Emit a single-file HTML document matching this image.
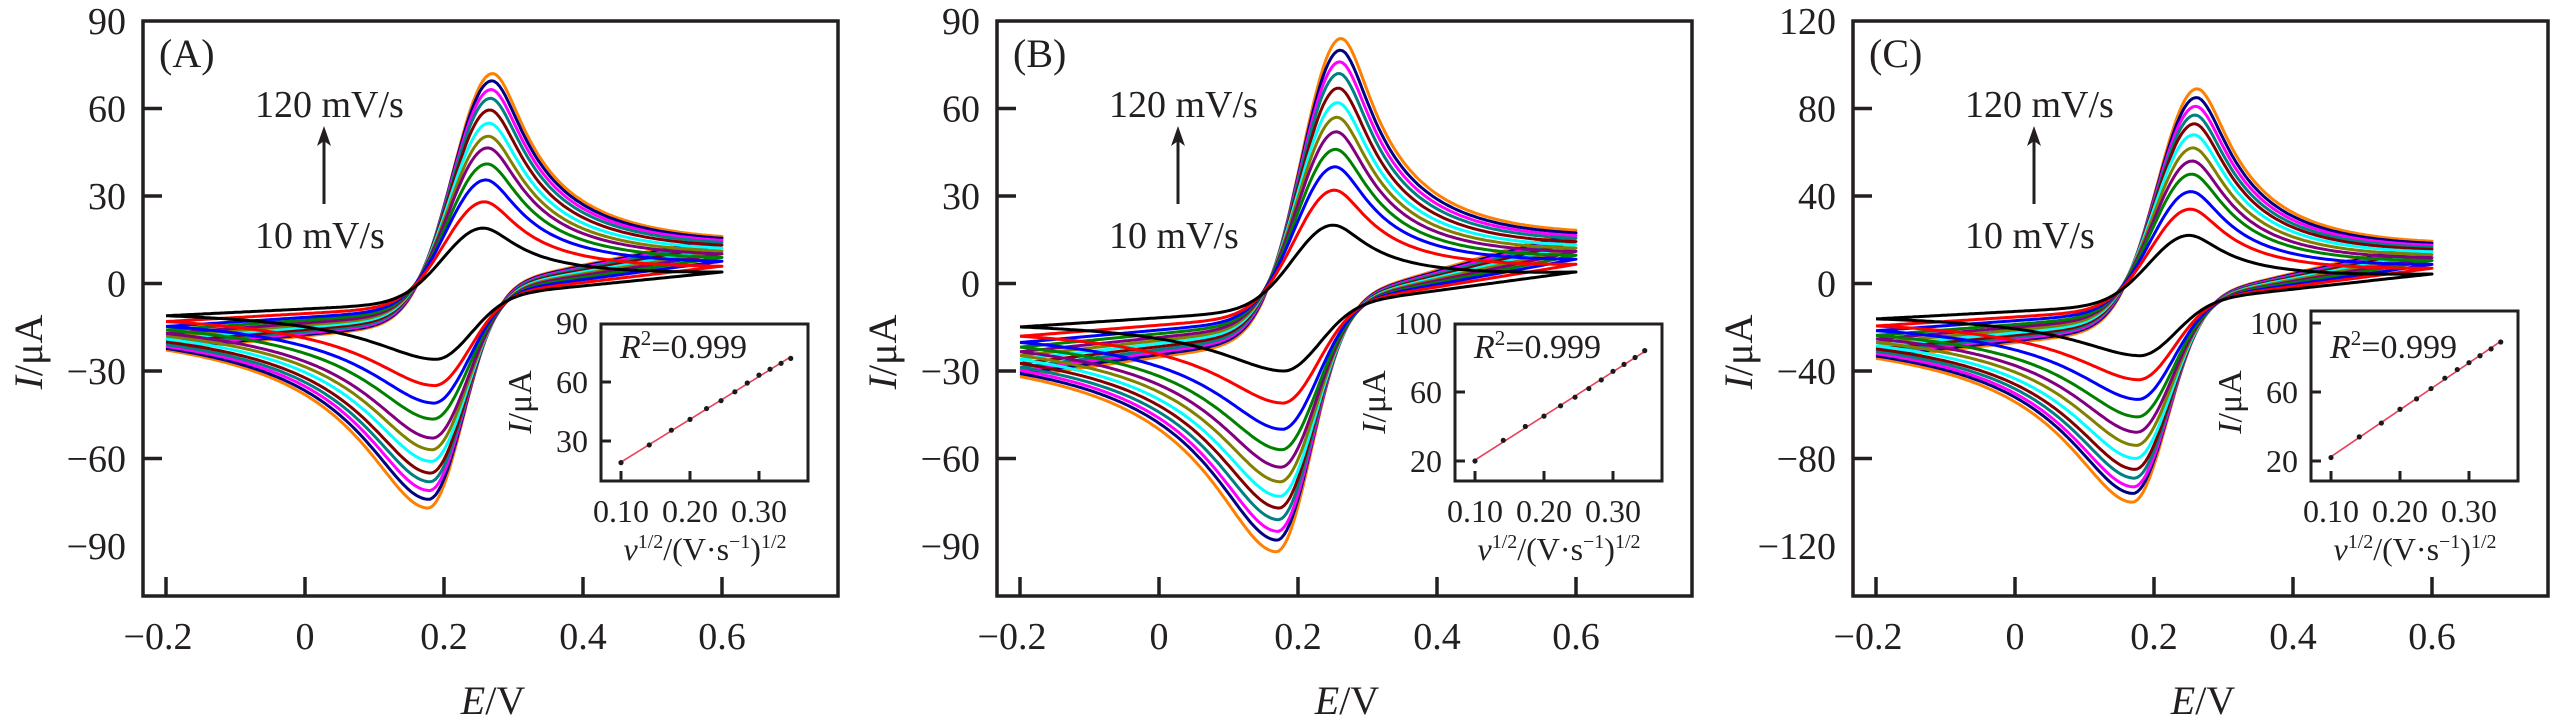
<!DOCTYPE html>
<html><head><meta charset="utf-8"><style>
html,body{margin:0;padding:0;background:#fff;}
svg{display:block;font-family:"Liberation Serif","DejaVu Serif",serif;}
</style></head><body>
<svg id="chart" width="2567" height="724" viewBox="0 0 2567 724" xmlns="http://www.w3.org/2000/svg"></svg>
<script>
// ---- data ----
const panelLetters = ["A","B","C"];
const scanRates = [10,20,30,40,50,60,70,80,90,100,110,120];
const sqrtRates = [0.100,0.141,0.173,0.200,0.224,0.245,0.265,0.283,0.300,0.316,0.332,0.346];
const anodicA = [19,28,35.5,41,46.5,50.5,55,59.5,63.5,66.5,69.5,72];
const cathodicA = [-26,-35,-41,-46.5,-53,-57,-61,-65,-68,-71,-74,-77];
const anodicB = [20,32,40,46,52,57,62,67,72,76,80,84];
const cathodicB = [-30,-41,-50,-57,-63,-68,-73,-77,-81,-85,-88,-92];
const anodicC = [22,34,42,50,56,62,68,73,77,81,85,89];
const cathodicC = [-33,-44,-53,-61,-68,-74,-80,-85,-89,-93,-96,-100];
const epaA = [0.255,0.257,0.259,0.261,0.262,0.263,0.264,0.265,0.266,0.267,0.268,0.269];
const epcA = [0.19,0.188,0.187,0.186,0.185,0.184,0.183,0.182,0.181,0.180,0.179,0.178];
const epaB = [0.249,0.251,0.252,0.253,0.254,0.255,0.256,0.257,0.258,0.259,0.260,0.261];
const epcB = [0.182,0.180,0.179,0.178,0.177,0.176,0.175,0.174,0.173,0.172,0.171,0.170];
const epaC = epaB.slice();
const epcC = epcB.slice();
const yMaxes = [90,90,120];
const yTicksMain = [[-90,-60,-30,0,30,60,90],[-90,-60,-30,0,30,60,90],[-120,-80,-40,0,40,80,120]];
const xTicksMain = [-0.2,0,0.2,0.4,0.6];
const xTickLabels = ["\u22120.2","0","0.2","0.4","0.6"];
const insetXTicks = [0.10,0.20,0.30];
const insetXTickLabels = ["0.10","0.20","0.30"];
const insetYTicks = [[30,60,90],[20,60,100],[20,60,100]];
const baseFactors = [1.0,1.4,1.5];
const colors = ["#000000","#ff0000","#0000ff","#008000","#800080","#808000","#00ffff","#800000","#008080","#ff00ff","#000080","#ff8000"];

const anodicAll=[anodicA,anodicB,anodicC], cathodicAll=[cathodicA,cathodicB,cathodicC];
const epaAll=[epaA,epaB,epaC], epcAll=[epcA,epcB,epcC];

const NS="http://www.w3.org/2000/svg";
const svg=document.getElementById('chart');
function mk(tag,attrs,parent,text){const e=document.createElementNS(NS,tag);for(const k in attrs)e.setAttribute(k,attrs[k]);if(text!==undefined)e.textContent=text;(parent||svg).appendChild(e);return e;}

const ox=[143,997,1853];
const FW=695, FT=21, FB=596;

function Pa(x){return x<0?Math.exp(-(x/0.08)*(x/0.08)):Math.pow(1+(x/0.0424)*(x/0.0424),-0.35);}
function Pc(x){return x<0?Math.exp(-(x/0.07)*(x/0.07)):Math.pow(1+(x/0.091)*(x/0.091),-0.5);}

for(let p=0;p<3;p++){
  const X=ox[p];
  const g=mk('g',{},svg);
  
  
  const xs=E=>X+23+(E+0.2)*FW;
  const ym=yMaxes[p];
  const ys=I=>FT+(ym-I)*(525/(2*ym));

  const cg=mk('g',{fill:'none','stroke-width':3,'stroke-linejoin':'round'},g);
  
  
  const an=anodicAll[p], ca=cathodicAll[p], ea=epaAll[p], ec=epcAll[p];
  const Imax=an[an.length-1];
  for(let i=scanRates.length-1;i>=0;i--){
    const kb=baseFactors[p]*(0.3+0.7*an[i]/Imax);
    const baseF=E=>kb*(-18+24*E);
    const Af=an[i]-baseF(ea[i]);
    const If=E=>baseF(E)+Af*Pa(E-ea[i]);
    const V=If(0.6);
    const b0=V+kb*49*(ec[i]-0.6);
    const baseR=E=>E>=ec[i]?V+kb*49*(E-0.6):b0+kb*10*(E-ec[i]);
    const Ac=ca[i]-baseR(ec[i]);
    const Ir0=E=>baseR(E)+Ac*Pc(ec[i]-E);
    const delta=If(-0.2)-Ir0(-0.2);
    const Ir=E=>Ir0(E)+(E<ec[i]?delta*(ec[i]-E)/(ec[i]+0.2):0);
    let d='';
    const N=200;
    for(let k=0;k<=N;k++){const E=-0.2+0.8*k/N;d+=(k?'L':'M')+xs(E).toFixed(1)+','+ys(If(E)).toFixed(1);}
    for(let k=N;k>=0;k--){const E=-0.2+0.8*k/N;d+='L'+xs(E).toFixed(1)+','+ys(Ir(E)).toFixed(1);}
    const path=mk('path',{d:d,stroke:colors[i]},cg);
    
    
  }

  const fr=mk('rect',{x:X,y:FT,width:FW,height:FB-FT,fill:'none',stroke:'#231f20','stroke-width':3.5},g);
  
  

  yTicksMain[p].forEach(v=>{
    const y=ys(v);
    if(Math.abs(v)!==ym){const t=mk('line',{x1:X,x2:X+19,y1:y,y2:y,stroke:'#231f20','stroke-width':3.5},g);
      }
    const lb=mk('text',{x:X-17,y:y+13,'font-size':38,'text-anchor':'end',fill:'#231f20'},g,(v<0?'\u2212':'')+Math.abs(v));
    
  });
  xTicksMain.forEach((v,j)=>{
    const x=xs(v);
    const t=mk('line',{x1:x,x2:x,y1:FB,y2:FB-19,stroke:'#231f20','stroke-width':3.5},g);
    
    const lb=mk('text',{x:x-(v<0?8:0),y:649,'font-size':38,'text-anchor':'middle',fill:'#231f20'},g,xTickLabels[j]);
    
  });
  const xt=mk('text',{x:X+350,y:714,'font-size':40,'text-anchor':'middle',fill:'#231f20'},g);
  
  mk('tspan',{'font-style':'italic'},xt,'E');mk('tspan',{},xt,'/V');
  const yt=mk('text',{x:0,y:0,'font-size':40,'text-anchor':'middle',fill:'#231f20',transform:`translate(${X-101},352) rotate(-90)`},g);
  
  mk('tspan',{'font-style':'italic'},yt,'I');mk('tspan',{},yt,'/\u03bcA');

  const pl=mk('text',{x:X+16,y:67,'font-size':40,fill:'#231f20'},g,'('+panelLetters[p]+')');
  
  const a1=mk('text',{x:X+112,y:117,'font-size':38,fill:'#231f20'},g,'120 mV/s');
  
  const a2=mk('text',{x:X+112,y:248,'font-size':38,fill:'#231f20'},g,'10 mV/s');
  
  const ar=mk('line',{x1:X+181,x2:X+181,y1:204,y2:140,stroke:'#231f20','stroke-width':3},g);
  
  const ah=mk('polygon',{points:`${X+181},126 ${X+174},146 ${X+181},141 ${X+188},146`,fill:'#231f20'},g);
  

  const IL=X+458, IR=X+665, IB=481, IT=(p===2?311:324);
  const ixs=v=>IL+20+(v-0.1)*690;
  const iref=p===0?[60,382,59/30]:[60,392,69/40];
  const iys=v=>iref[1]-(v-iref[0])*iref[2];
  const ig=mk('g',{},g);
  
  const ifr=mk('rect',{x:IL,y:IT,width:IR-IL,height:IB-IT,fill:'#fff',stroke:'#231f20','stroke-width':3},ig);
  
  insetXTicks.forEach((v,j)=>{
    const x=ixs(v);
    const t=mk('line',{x1:x,x2:x,y1:IB,y2:IB-10,stroke:'#231f20','stroke-width':3},ig);
    
    const lb=mk('text',{x:x,y:522,'font-size':32,'text-anchor':'middle',fill:'#231f20'},ig,insetXTickLabels[j]);
    
  });
  insetYTicks[p].forEach(v=>{
    const y=iys(v);
    if(y>IT+3){const t=mk('line',{x1:IL,x2:IL+10,y1:y,y2:y,stroke:'#231f20','stroke-width':3},ig);
      }
    const lb=mk('text',{x:IL-13,y:y+11,'font-size':32,'text-anchor':'end',fill:'#231f20'},ig,String(v));
    
  });
  const n=sqrtRates.length;let sx=0,sy=0,sxx=0,sxy=0;
  for(let i=0;i<n;i++){sx+=sqrtRates[i];sy+=an[i];sxx+=sqrtRates[i]*sqrtRates[i];sxy+=sqrtRates[i]*an[i];}
  const m=(n*sxy-sx*sy)/(n*sxx-sx*sx), b=(sy-m*sx)/n;
  const x0=sqrtRates[0], x1=sqrtRates[n-1];
  const fl=mk('line',{x1:ixs(x0),y1:iys(m*x0+b),x2:ixs(x1),y2:iys(m*x1+b),stroke:'#e8405a','stroke-width':1.6},ig);
  
  for(let i=0;i<n;i++){
    const c=mk('circle',{cx:ixs(sqrtRates[i]),cy:iys(an[i]),r:2.6,fill:'#1a1a1a'},ig);
    
  }
  const r2=mk('text',{x:IL+19,y:358,'font-size':34,fill:'#231f20'},ig);
  
  mk('tspan',{'font-style':'italic'},r2,'R');mk('tspan',{'font-size':21,dy:-13},r2,'2');mk('tspan',{dy:13},r2,'=0.999');
  const iyt=mk('text',{x:0,y:0,'font-size':34,'text-anchor':'middle',fill:'#231f20',transform:`translate(${X+388},402) rotate(-90)`},ig);
  
  mk('tspan',{'font-style':'italic'},iyt,'I');mk('tspan',{},iyt,'/\u03bcA');
  const ixt=mk('text',{x:IL+104,y:560,'font-size':32,'text-anchor':'middle',fill:'#231f20'},ig);
  
  mk('tspan',{'font-style':'italic'},ixt,'v');mk('tspan',{'font-size':20,dy:-12},ixt,'1/2');
  mk('tspan',{dy:12},ixt,'/(V\u00b7s');mk('tspan',{'font-size':20,dy:-12},ixt,'\u22121');
  mk('tspan',{dy:12},ixt,')');mk('tspan',{'font-size':20,dy:-12},ixt,'1/2');
}
</script>
</body></html>
